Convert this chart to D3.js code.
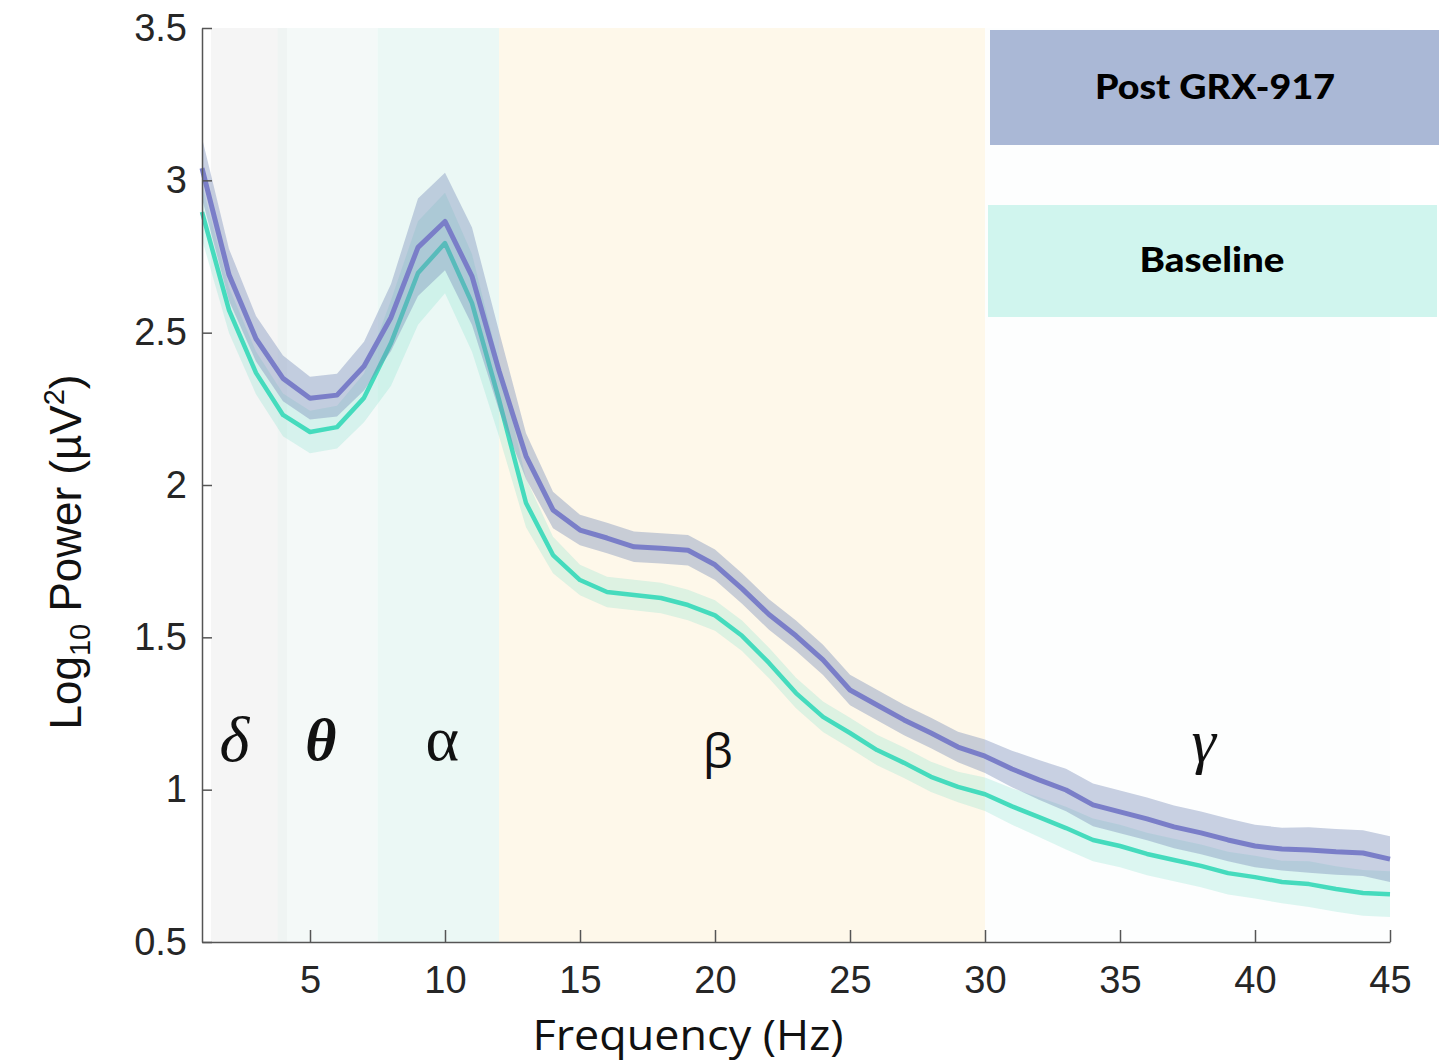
<!DOCTYPE html>
<html>
<head>
<meta charset="utf-8">
<script src="https://cdn.jsdelivr.net/npm/d3@7"></script>
<style>
  html, body { margin: 0; padding: 0; background: #ffffff; }
  svg { display: block; }
</style>
</head>
<body>
<svg id="chart" width="1442" height="1061"></svg>
<script>
// ---------------- data ----------------
const freqs = [1,2,3,4,5,6,7,8,9,10,11,12,13,14,15,16,17,18,19,20,21,22,23,24,25,26,27,28,29,30,31,32,33,34,35,36,37,38,39,40,41,42,43,44,45];

const postValues = [3.04,2.69,2.48,2.35,2.285,2.295,2.39,2.55,2.78,2.865,2.685,2.375,2.095,1.918,1.852,1.826,1.797,1.792,1.786,1.738,1.66,1.575,1.505,1.426,1.327,1.278,1.229,1.186,1.14,1.11,1.068,1.032,0.999,0.95,0.927,0.904,0.878,0.858,0.835,0.815,0.805,0.802,0.796,0.792,0.772];
const postSem = [0.10,0.085,0.075,0.075,0.07,0.07,0.08,0.11,0.16,0.16,0.16,0.13,0.075,0.06,0.05,0.05,0.05,0.05,0.05,0.05,0.05,0.05,0.05,0.05,0.05,0.05,0.05,0.05,0.05,0.055,0.06,0.065,0.07,0.07,0.07,0.07,0.07,0.07,0.07,0.07,0.07,0.075,0.075,0.075,0.075];

const baselineValues = [2.896,2.574,2.368,2.23,2.174,2.19,2.286,2.466,2.696,2.794,2.597,2.28,1.941,1.77,1.688,1.649,1.639,1.629,1.606,1.572,1.505,1.416,1.317,1.239,1.186,1.13,1.088,1.042,1.009,0.985,0.945,0.91,0.874,0.835,0.815,0.789,0.769,0.75,0.726,0.713,0.697,0.69,0.674,0.661,0.657];
const baselineSem = [0.09,0.075,0.07,0.07,0.07,0.07,0.08,0.14,0.17,0.165,0.16,0.12,0.08,0.06,0.05,0.05,0.05,0.05,0.05,0.05,0.05,0.05,0.05,0.05,0.05,0.05,0.05,0.05,0.05,0.055,0.06,0.065,0.07,0.07,0.07,0.07,0.07,0.07,0.07,0.07,0.07,0.075,0.075,0.075,0.075];

const bandSymbols = ["δ","θ","α","β","γ"];
const bandStart = [1.33,3.8,7.5,12,30];
const bandEnd   = [4.15,7.5,12,30,45];
const bandLabelFreq = [2.2,5.4,9.9,20.1,38.1];

const xTicks = [5,10,15,20,25,30,35,40,45];
const yTicks = [0.5,1,1.5,2,2.5,3,3.5];

const seriesNames = ["Post GRX-917","Baseline"];

// ---------------- styles ----------------
const bandFill = ["#f5f5f5","#e9f3f1","#ebf8f5","#fef8ea","#fdfefe"];
const bandOpacity = [1,0.5,1,1,1];
const bandFont = [
  {family:"'Liberation Serif', 'DejaVu Serif', serif", style:"italic", weight:"normal", size:64, y:761},
  {family:"'Liberation Serif', 'DejaVu Serif', serif", style:"italic", weight:"bold", size:60, y:760},
  {family:"'Liberation Serif', 'DejaVu Serif', serif", style:"normal", weight:"normal", size:64, y:760},
  {family:"'Open Sans', 'Noto Sans', sans-serif", style:"normal", weight:"normal", size:48, y:768},
  {family:"'Liberation Serif', 'DejaVu Serif', serif", style:"italic", weight:"normal", size:62, y:762}
];

const W = 1442, H = 1061;
const svg = d3.select("#chart");

const x = d3.scaleLinear().domain([1,45]).range([202,1390]);
const y = d3.scaleLinear().domain([0.5,3.5]).range([942,28]);

// ---- frequency band backgrounds ----
svg.append("g").selectAll("rect")
  .data(bandSymbols)
  .join("rect")
  .attr("x", (d,i) => x(bandStart[i]))
  .attr("width", (d,i) => x(bandEnd[i]) - x(bandStart[i]))
  .attr("y", y(3.5))
  .attr("height", y(0.5) - y(3.5))
  .attr("fill", (d,i) => bandFill[i])
  .attr("fill-opacity", (d,i) => bandOpacity[i]);

// ---- legend boxes ----
const legendG = svg.append("g");
legendG.append("rect").attr("x",990).attr("y",30).attr("width",449).attr("height",115).attr("fill","#aab8d6");
legendG.append("rect").attr("x",988).attr("y",205).attr("width",449).attr("height",112).attr("fill","#d0f5ee");
legendG.append("text").attr("x",1215).attr("y",99).attr("text-anchor","middle")
  .attr("font-family","Lato, 'Noto Sans', sans-serif").attr("font-weight","900").attr("font-size",35)
  .attr("fill","#000").attr("textLength",240).attr("lengthAdjust","spacingAndGlyphs").text(seriesNames[0]);
legendG.append("text").attr("x",1212).attr("y",272).attr("text-anchor","middle")
  .attr("font-family","Lato, 'Noto Sans', sans-serif").attr("font-weight","900").attr("font-size",35)
  .attr("fill","#000").attr("textLength",145).attr("lengthAdjust","spacingAndGlyphs").text(seriesNames[1]);

// ---- series ----
const area = (vals, sem) => d3.area()
  .x((d,i) => x(freqs[i]))
  .y0((d,i) => y(vals[i] - sem[i]))
  .y1((d,i) => y(vals[i] + sem[i]));
const line = (vals) => d3.line()
  .x((d,i) => x(freqs[i]))
  .y((d,i) => y(vals[i]));

const plotG = svg.append("g");
plotG.append("path").datum(baselineValues).attr("d", area(baselineValues, baselineSem))
  .attr("fill","#7bdfcb").attr("fill-opacity",0.25);
plotG.append("path").datum(baselineValues).attr("d", line(baselineValues))
  .attr("fill","none").attr("stroke","#45dbbd").attr("stroke-width",4.5).attr("stroke-linejoin","round");
plotG.append("path").datum(postValues).attr("d", area(postValues, postSem))
  .attr("fill","#788cb9").attr("fill-opacity",0.4);
plotG.append("path").datum(postValues).attr("d", line(postValues))
  .attr("fill","none").attr("stroke","#7a7ec8").attr("stroke-width",5).attr("stroke-linejoin","round");

// ---- band labels ----
svg.append("g").selectAll("text")
  .data(bandSymbols)
  .join("text")
  .attr("x", (d,i) => x(bandLabelFreq[i]))
  .attr("y", (d,i) => bandFont[i].y)
  .attr("text-anchor","middle")
  .attr("font-family", (d,i) => bandFont[i].family)
  .attr("font-style", (d,i) => bandFont[i].style)
  .attr("font-weight", (d,i) => bandFont[i].weight)
  .attr("font-size", (d,i) => bandFont[i].size)
  .attr("fill","#111")
  .text(d => d);

// ---- axes ----
const axisColor = "#262626";
const xAxis = d3.axisBottom(x).tickValues(xTicks).tickSizeInner(-12).tickSizeOuter(0).tickPadding(24)
  .tickFormat(d => String(d));
const gx = svg.append("g").attr("transform", `translate(0,${y(0.5)})`).call(xAxis);
const yAxis = d3.axisLeft(y).tickValues(yTicks).tickSizeInner(-10).tickSizeOuter(0).tickPadding(15)
  .tickFormat(d => String(d));
const gy = svg.append("g").attr("transform", `translate(${x(1)},0)`).call(yAxis);

[gx, gy].forEach(g => {
  g.select(".domain").attr("stroke", "#555").attr("stroke-width", 1.5);
  g.selectAll(".tick line").attr("stroke", "#555").attr("stroke-width", 1.5);
  g.selectAll(".tick text").attr("fill", axisColor)
    .attr("font-family", "'Liberation Sans', Arial, sans-serif").attr("font-size", 38);
});

// ---- axis titles ----
svg.append("text").attr("x", 688).attr("y", 1050).attr("text-anchor","middle")
  .attr("font-family","'Open Sans', 'Noto Sans', sans-serif").attr("font-size",42).attr("fill","#111")
  .attr("textLength",311).attr("lengthAdjust","spacingAndGlyphs")
  .text("Frequency (Hz)");

const yl = svg.append("text")
  .attr("transform","translate(81,552) rotate(-90)")
  .attr("text-anchor","middle")
  .attr("font-family","'Liberation Sans', Arial, sans-serif").attr("font-size",44).attr("fill","#111");
yl.append("tspan").text("Log");
yl.append("tspan").attr("font-size",29).attr("dy",9).text("10");
yl.append("tspan").attr("dy",-9).text(" Power (µV");
yl.append("tspan").attr("font-size",29).attr("dy",-17).text("2");
yl.append("tspan").attr("dy",17).text(")");
</script>
</body>
</html>
